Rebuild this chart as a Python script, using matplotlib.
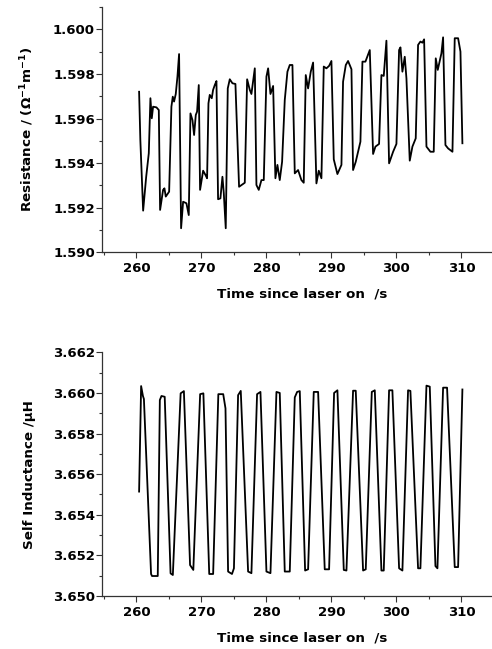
import matplotlib
matplotlib.use("Agg")
import matplotlib.pyplot as plt
from matplotlib.ticker import MultipleLocator

# resistance trace (top panel)
t_res = [260.41, 260.60, 261.03, 261.50, 261.90, 262.15, 262.36, 262.56, 263.08, 263.44,
         263.64, 264.10, 264.31, 264.51, 265.03, 265.38, 265.59, 265.79, 266.05, 266.31,
         266.56, 266.87, 267.18, 267.69, 268.05, 268.31, 268.62, 268.87, 269.13, 269.33,
         269.59, 269.79, 270.26, 270.62, 270.87, 271.08, 271.28, 271.59, 271.79, 272.05,
         272.31, 272.56, 272.92, 273.23, 273.44, 273.74, 274.05, 274.36, 274.77, 275.23,
         275.79, 276.67, 277.03, 277.44, 277.69, 278.21, 278.46, 278.82, 279.23, 279.59,
         280.00, 280.26, 280.62, 281.03, 281.38, 281.69, 282.05, 282.41, 282.82, 283.23,
         283.59, 284.00, 284.36, 284.87, 285.38, 285.74, 286.05, 286.41, 286.82, 287.18,
         287.69, 288.05, 288.46, 288.82, 289.23, 289.64, 290.00, 290.36, 290.92, 291.54,
         291.79, 292.21, 292.56, 293.08, 293.33, 293.74, 294.46, 294.77, 295.23, 295.90,
         296.41, 296.77, 297.33, 297.69, 298.05, 298.46, 298.87, 299.49, 300.00, 300.41,
         300.62, 300.92, 301.28, 301.54, 302.05, 302.46, 302.97, 303.33, 303.69, 304.00,
         304.26, 304.62, 305.23, 305.74, 306.05, 306.36, 306.92, 307.18, 307.54, 307.95,
         308.62, 308.97, 309.49, 309.85, 310.15]
r_res = [1.59720, 1.59504, 1.59187, 1.59339, 1.59444, 1.59691, 1.59601, 1.59653, 1.59650, 1.59638,
         1.59190, 1.59280, 1.59287, 1.59250, 1.59272, 1.59653, 1.59698, 1.59676, 1.59710, 1.59788,
         1.59889, 1.59108, 1.59227, 1.59220, 1.59167, 1.59623, 1.59593, 1.59526, 1.59616, 1.59631,
         1.59750, 1.59280, 1.59366, 1.59347, 1.59332, 1.59668, 1.59706, 1.59691, 1.59728, 1.59750,
         1.59768, 1.59238, 1.59242, 1.59339, 1.59265, 1.59108, 1.59735, 1.59776, 1.59758, 1.59755,
         1.59294, 1.59312, 1.59776, 1.59728, 1.59710, 1.59825, 1.59302, 1.59280, 1.59324, 1.59324,
         1.59788, 1.59825, 1.59710, 1.59746, 1.59332, 1.59392, 1.59324, 1.59406, 1.59683, 1.59810,
         1.59840, 1.59840, 1.59354, 1.59369, 1.59324, 1.59312, 1.59795, 1.59735, 1.59810, 1.59851,
         1.59309, 1.59366, 1.59332, 1.59833, 1.59825, 1.59836, 1.59858, 1.59417, 1.59351, 1.59392,
         1.59765, 1.59840, 1.59858, 1.59821, 1.59369, 1.59406, 1.59496, 1.59855, 1.59855, 1.59907,
         1.59441, 1.59474, 1.59486, 1.59795, 1.59791, 1.59949, 1.59399, 1.59451, 1.59486, 1.59907,
         1.59919, 1.59810, 1.59877, 1.59780, 1.59411, 1.59474, 1.59511, 1.59930, 1.59945, 1.59940,
         1.59955, 1.59474, 1.59451, 1.59451, 1.59870, 1.59818, 1.59892, 1.59964, 1.59481, 1.59466,
         1.59451, 1.59960, 1.59960, 1.59900, 1.59489]

# self inductance trace (bottom panel)
t_ind = [260.41, 260.72, 261.00, 261.15, 262.25, 262.40, 263.28, 263.60, 263.85, 264.35,
         265.25, 265.60, 266.80, 267.30, 268.25, 268.75, 269.80, 270.30, 271.20, 271.80,
         272.60, 273.35, 273.70, 274.10, 274.70, 275.00, 275.64, 276.05, 277.18, 277.69,
         278.56, 279.08, 280.00, 280.62, 281.54, 282.05, 282.82, 283.59, 284.36, 284.72,
         285.13, 285.95, 286.41, 287.28, 287.95, 288.97, 289.64, 290.41, 290.92, 291.90,
         292.31, 293.33, 293.74, 294.87, 295.28, 296.21, 296.67, 297.69, 298.05, 298.87,
         299.38, 300.41, 300.92, 301.79, 302.15, 303.33, 303.69, 304.62, 305.13, 306.00,
         306.31, 307.18, 307.79, 308.97, 309.49, 310.15]
l_ind = [3.65514, 3.66034, 3.65985, 3.65970, 3.65108, 3.65098, 3.65098, 3.65965, 3.65985, 3.65981,
         3.65111, 3.65103, 3.65998, 3.66009, 3.65152, 3.65128, 3.65994, 3.65998, 3.65108, 3.65108,
         3.65994, 3.65994, 3.65924, 3.65120, 3.65108, 3.65136, 3.65989, 3.66010, 3.65120, 3.65112,
         3.65994, 3.66005, 3.65120, 3.65112, 3.66005, 3.66000, 3.65120, 3.65120, 3.65978, 3.66005,
         3.66009, 3.65125, 3.65131, 3.66005, 3.66005, 3.65131, 3.65131, 3.66000, 3.66013, 3.65128,
         3.65125, 3.66011, 3.66011, 3.65125, 3.65131, 3.66005, 3.66013, 3.65125, 3.65125, 3.66013,
         3.66013, 3.65136, 3.65125, 3.66013, 3.66010, 3.65136, 3.65136, 3.66036, 3.66031, 3.65147,
         3.65136, 3.66026, 3.66026, 3.65142, 3.65142, 3.66017]

plt.rcParams['font.family'] = 'DejaVu Sans'
plt.rcParams['font.weight'] = 'bold'
plt.rcParams['mathtext.fontset'] = 'dejavusans'
plt.rcParams['mathtext.default'] = 'bf'

fig = plt.figure(figsize=(4.92, 6.49), dpi=100)
ax1 = fig.add_axes([0.2073, 0.6112, 0.790, 0.378])
ax2 = fig.add_axes([0.2073, 0.0818, 0.790, 0.3753])


def style(ax, ylo, yhi, ymaj, ymin, fmt):
    for s in ['top', 'right']:
        ax.spines[s].set_visible(False)
    for s in ['left', 'bottom']:
        ax.spines[s].set_linewidth(0.9)
        ax.spines[s].set_color('#333333')
    ax.set_xlim(254.7, 314.5)
    ax.set_ylim(ylo, yhi)
    ax.xaxis.set_major_locator(MultipleLocator(10))
    ax.xaxis.set_minor_locator(MultipleLocator(5))
    ax.yaxis.set_major_locator(MultipleLocator(ymaj))
    ax.yaxis.set_minor_locator(MultipleLocator(ymin))
    ax.yaxis.set_major_formatter(plt.FormatStrFormatter(fmt))
    ax.tick_params(which='major', length=4, width=0.8, color='#333333', labelsize=9.5)
    ax.tick_params(which='minor', length=2.5, width=0.8, color='#333333')
    ax.tick_params(axis='y', which='major', pad=1)
    ax.tick_params(axis='x', which='major', pad=3)
    ax.set_xlabel('Time since laser on  /s', fontsize=9.7, fontweight='bold', labelpad=9)
    ax.xaxis.label.set_x(0.515)


ax1.plot(t_res, r_res, color='black', lw=1.3)
style(ax1, 1.590, 1.601, 0.002, 0.001, '%.3f')
ax1.set_ylabel('Resistance / (Ω$^{-1}$m$^{-1}$)', fontsize=9.7, fontweight='bold', labelpad=12)

ax2.plot(t_ind, l_ind, color='black', lw=1.3)
style(ax2, 3.650, 3.662, 0.002, 0.001, '%.3f')
ax2.set_ylabel('Self Inductance /μH', fontsize=9.7, fontweight='bold', labelpad=12)

fig.savefig('out.png', dpi=100)
